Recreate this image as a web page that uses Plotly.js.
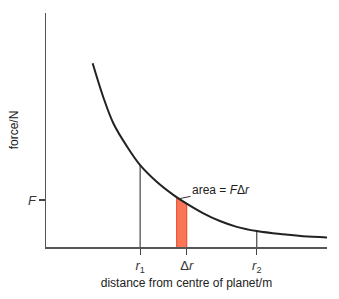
<!DOCTYPE html>
<html>
<head>
<meta charset="utf-8">
<script src="https://cdn.plot.ly/plotly-3.0.1.min.js"></script>
<style>html,body{margin:0;padding:0;background:#fff;}#chart{width:339px;height:299px;}</style>
</head>
<body>
<div id="chart"></div>
<script>
// Curve: distance (arbitrary units) vs force (arbitrary units)
const curveDistance = [16.6, 20.4, 24.0, 28.7, 33.5, 39.4, 45.3, 48.9, 56.0, 61.9, 67.9, 75.0, 84.3, 91.5, 100];
const curveForce    = [78.5, 64.0, 52.8, 43.2, 35.0, 27.9, 22.3, 19.4, 14.4, 11.1, 8.6, 6.8, 5.4, 4.6, 4.1];

// Marked positions
const markLabels = ['<i>r</i><sub>1</sub>', 'Δ<i>r</i>', '<i>r</i><sub>2</sub>'];
const markDistance = [33.5, 50.1, 75.0];
const r1Force = 35.0;
const r2Force = 6.8;

// Strip of width Δr
const stripDistance = [46.5, 46.5, 50.1, 50.1];
const stripForce = [0, 21.3, 18.6, 0];

const forceLabel = ['<i>F</i>'];
const forceValue = [20.1];

const traces = [
  {x: stripDistance, y: stripForce, mode: 'lines', fill: 'toself', fillcolor: '#fb7656',
   line: {color: '#e0452c', width: 1}, hoverinfo: 'skip'},
  {x: [markDistance[0], markDistance[0]], y: [0, r1Force], mode: 'lines',
   line: {color: '#444', width: 1.2}, hoverinfo: 'skip'},
  {x: [markDistance[2], markDistance[2]], y: [0, r2Force], mode: 'lines',
   line: {color: '#444', width: 1.2}, hoverinfo: 'skip'},
  {x: curveDistance, y: curveForce, mode: 'lines', line: {color: '#222', width: 2, shape: 'spline', smoothing: 1}}
];

const layout = {
  width: 339, height: 299,
  margin: {l: 46, r: 12, t: 13, b: 52},
  paper_bgcolor: '#fff', plot_bgcolor: '#fff',
  showlegend: false,
  font: {family: 'Liberation Sans, Arial, sans-serif', size: 12, color: '#222'},
  xaxis: {
    range: [0, 100], showgrid: false, zeroline: false,
    showline: true, linecolor: '#555', linewidth: 1.5,
    tickmode: 'array', tickvals: markDistance, ticktext: markLabels,
    ticks: 'outside', ticklen: 6, tickwidth: 1.2, tickcolor: '#444',
    tickfont: {size: 13, color: '#333'},
    title: {text: 'distance from centre of planet/m', font: {size: 12, color: '#222'}, standoff: 5}
  },
  yaxis: {
    range: [0, 100], showgrid: false, zeroline: false,
    showline: true, linecolor: '#555', linewidth: 1.5,
    tickmode: 'array', tickvals: forceValue, ticktext: forceLabel,
    ticks: 'outside', ticklen: 6, tickwidth: 1.2, tickcolor: '#444',
    tickfont: {size: 13, color: '#333'},
    title: {text: 'force/N', font: {size: 12, color: '#222'}, standoff: 6}
  },
  annotations: [{
    x: 47.2, y: 20.6, xref: 'x', yref: 'y',
    ax: 62.3, ay: 24.3, axref: 'x', ayref: 'y',
    text: 'area = <i>F</i>Δ<i>r</i>', showarrow: true, arrowhead: 0,
    arrowwidth: 1, arrowcolor: '#333', standoff: 0,
    font: {size: 12, color: '#222'}
  }]
};

Plotly.newPlot('chart', traces, layout, {displayModeBar: false, staticPlot: true});
</script>
</body>
</html>
